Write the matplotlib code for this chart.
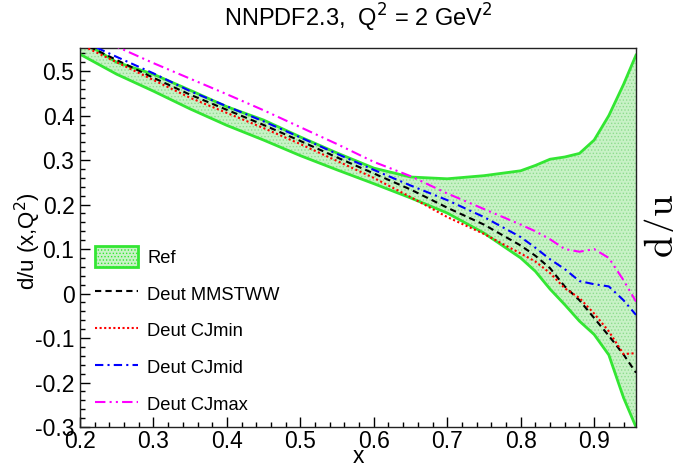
import numpy as np
import matplotlib
matplotlib.use('Agg')
import matplotlib.pyplot as plt
from matplotlib.patches import Patch
from matplotlib.lines import Line2D
from matplotlib.ticker import MultipleLocator, FuncFormatter

plt.rcParams['font.family'] = ['Liberation Sans', 'DejaVu Sans']
plt.rcParams['axes.unicode_minus'] = False
plt.rcParams['hatch.linewidth'] = 0.6

# x grid shared by all curves
x = [0.2, 0.25, 0.3, 0.35, 0.4, 0.45, 0.5, 0.55, 0.6, 0.65, 0.7, 0.75,
     0.8, 0.82, 0.84, 0.86, 0.88, 0.9, 0.92, 0.94, 0.957]

# Ref band (NNPDF2.3)
ref_lo = [0.538, 0.493, 0.455, 0.415, 0.378, 0.345, 0.31, 0.278, 0.247, 0.215, 0.181, 0.136,
          0.08, 0.05, 0.01, -0.025, -0.062, -0.092, -0.138, -0.234, -0.30]
ref_hi = [0.57, 0.52, 0.493, 0.457, 0.42, 0.39, 0.352, 0.316, 0.282, 0.262, 0.258, 0.265,
          0.276, 0.288, 0.302, 0.307, 0.315, 0.345, 0.40, 0.47, 0.536]

# reweighted with deuteron corrections
mmstww = [0.565, 0.525, 0.485, 0.447, 0.413, 0.379, 0.343, 0.306, 0.27, 0.234, 0.193, 0.155,
          0.108, 0.085, 0.057, 0.016, -0.015, -0.055, -0.095, -0.137, -0.178]
cjmin = [0.56, 0.52, 0.48, 0.44, 0.406, 0.372, 0.336, 0.298, 0.26, 0.217, 0.172, 0.134,
         0.09, 0.072, 0.046, 0.012, -0.01, -0.045, -0.085, -0.136, -0.134]
cjmid = [0.57, 0.532, 0.495, 0.455, 0.421, 0.387, 0.351, 0.314, 0.278, 0.243, 0.21, 0.172,
         0.127, 0.103, 0.077, 0.055, 0.028, 0.021, 0.016, -0.015, -0.048]
cjmax = [0.595, 0.555, 0.518, 0.483, 0.448, 0.412, 0.374, 0.336, 0.296, 0.264, 0.225, 0.19,
         0.155, 0.14, 0.122, 0.1, 0.094, 0.1, 0.08, 0.03, -0.018]

labels = ['Ref', 'Deut MMSTWW', 'Deut CJmin', 'Deut CJmid', 'Deut CJmax']

green = '#33e633'
fill_c = '#c8f2c6'

fig = plt.figure(figsize=(6.73, 4.67), dpi=100)
ax = fig.add_axes([80/673, 40/467, 556/673, 379/467])

ax.fill_between(x, ref_lo, ref_hi, facecolor=fill_c, edgecolor='#8fdc8f',
                hatch='.....', linewidth=0, zorder=1)
ax.plot(x, ref_lo, color=green, lw=2, zorder=2)
ax.plot(x, ref_hi, color=green, lw=2, zorder=2)

ls_black = (0, (3, 2))
ls_red = (0, (1, 1.2))
ls_blue = (0, (4, 2, 1, 2))
ls_mag = (0, (5, 2, 1, 2, 1, 2))
ax.plot(x, mmstww, color='k', lw=1.5, ls=ls_black, zorder=3)
ax.plot(x, cjmin, color='#ff0000', lw=1.5, ls=ls_red, zorder=3)
ax.plot(x, cjmid, color='#0000ff', lw=1.5, ls=ls_blue, zorder=3)
ax.plot(x, cjmax, color='#ff00ff', lw=1.5, ls=ls_mag, zorder=3)

ax.set_xlim(0.2, 0.957)
ax.set_ylim(-0.3, 0.552)

ax.xaxis.set_major_locator(MultipleLocator(0.1))
ax.xaxis.set_minor_locator(MultipleLocator(0.02))
ax.yaxis.set_major_locator(MultipleLocator(0.1))
ax.yaxis.set_minor_locator(MultipleLocator(0.02))

def fmt(v, pos):
    if abs(v) < 1e-9:
        return '0'
    return '{:.1f}'.format(v)

ax.xaxis.set_major_formatter(FuncFormatter(fmt))
ax.yaxis.set_major_formatter(FuncFormatter(fmt))
ax.tick_params(which='both', direction='in', top=False, right=False, labelsize=16.5, width=1)
ax.tick_params(which='major', length=7)
ax.tick_params(which='minor', length=3.5)
ax.tick_params(axis='x', pad=2.5)
ax.tick_params(axis='y', pad=4)
for s in ax.spines.values():
    s.set_linewidth(1)
    s.set_color('#222222')

fig.text(358/673, 1-27/467, r'NNPDF2.3,  Q$^{2}$ = 2 GeV$^{2}$', ha='center', va='baseline',
         fontsize=17, math_fontfamily='dejavusans')
fig.text(358/673, 1-463/467, 'x', ha='center', va='baseline', fontsize=16.5)
fig.text(35/673, 1-241/467, r'd/u (x,Q$^{2}$)', rotation=90, rotation_mode='anchor',
         ha='center', va='baseline', fontsize=16)
fig.text(1.0, 1-226/467, r'$\mathrm{d/u}$', rotation=90, rotation_mode='anchor',
         ha='center', va='baseline', fontsize=28, math_fontfamily='cm')

handles = [
    Patch(facecolor=fill_c, edgecolor=green, hatch='.....', linewidth=2),
    Line2D([], [], color='k', lw=1.5, ls=ls_black),
    Line2D([], [], color='#ff0000', lw=1.5, ls=ls_red),
    Line2D([], [], color='#0000ff', lw=1.5, ls=ls_blue),
    Line2D([], [], color='#ff00ff', lw=1.5, ls=ls_mag),
]
fs = 13.2
ax.legend(handles, labels, loc='upper left', bbox_to_anchor=(95/673, 1-246/467),
          bbox_transform=fig.transFigure, frameon=False, fontsize=fs,
          handlelength=2.35, handleheight=1.42, labelspacing=0.84,
          handletextpad=0.5, borderpad=0, borderaxespad=0)

fig.savefig('out.png', dpi=100)
